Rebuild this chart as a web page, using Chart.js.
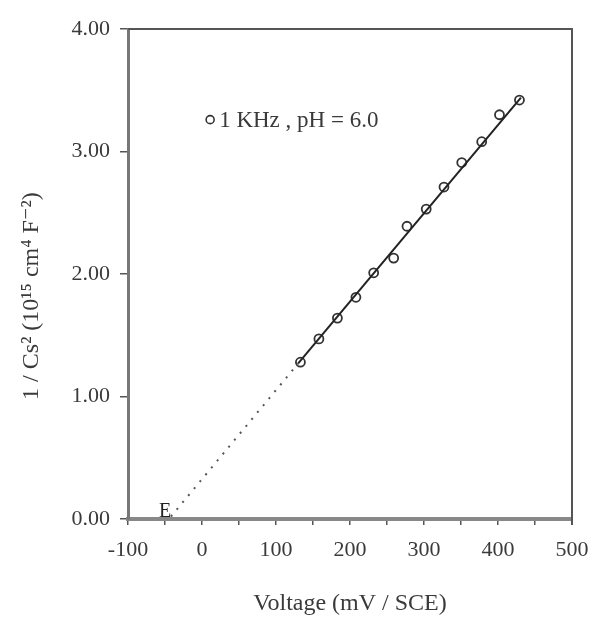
<!DOCTYPE html>
<html>
<head>
<meta charset="utf-8">
<script src="https://cdn.jsdelivr.net/npm/chart.js@4/dist/chart.umd.min.js"></script>
<style>
html,body{margin:0;padding:0;background:#fff;}
#wrap{width:598px;height:622px;position:relative;}
</style>
</head>
<body>
<div id="wrap"><canvas id="c" width="598" height="622"></canvas></div>
<script>
// Data
const voltage = [133, 158, 183, 208, 232, 259, 277, 303, 327, 351, 378, 402, 429];
const invCs2 = [1.28, 1.47, 1.64, 1.81, 2.01, 2.13, 2.39, 2.53, 2.71, 2.91, 3.08, 3.30, 3.42];
const fitX = [130, 431];
const fitY = [1.27, 3.44];
const extrapX = [-42, 130];
const extrapY = [0.02, 1.27];
const xTickValues = [-100, 0, 100, 200, 300, 400, 500];
const yTickValues = [0, 1, 2, 3, 4];
const legendText = '1 KHz , pH = 6.0';
const flatbandLabel = 'E';
const xTitle = 'Voltage (mV / SCE)';
const yTitle = '1 / Cs\u00B2 (10\u00B9\u2075 cm\u2074 F\u207B\u00B2)';

const serif = '"Liberation Serif", "DejaVu Serif", serif';
const textColor = '#3a3a3a';

const extraDraw = {
  id: 'extraDraw',
  afterDraw(chart) {
    const {ctx, chartArea: a, scales} = chart;
    ctx.save();
    // top and right frame
    ctx.strokeStyle = '#555';
    ctx.lineWidth = 2;
    ctx.beginPath();
    ctx.moveTo(a.left, a.top);
    ctx.lineTo(a.right, a.top);
    ctx.lineTo(a.right, a.bottom + 6);
    ctx.stroke();
    // legend
    const lx = scales.x.getPixelForValue(11);
    const ly = scales.y.getPixelForValue(3.26);
    ctx.lineWidth = 1.6;
    ctx.strokeStyle = '#333';
    ctx.beginPath();
    ctx.arc(lx, ly, 4, 0, Math.PI * 2);
    ctx.stroke();
    ctx.fillStyle = textColor;
    ctx.font = '23px ' + serif;
    ctx.textBaseline = 'middle';
    ctx.textAlign = 'left';
    ctx.fillText(legendText, lx + 9, ly + 1);
    // flat band label
    ctx.fillStyle = '#222';
    ctx.font = '20px ' + serif;
    ctx.textAlign = 'center';
    ctx.textBaseline = 'bottom';
    ctx.fillText(flatbandLabel, scales.x.getPixelForValue(-50), scales.y.getPixelForValue(0) + 3);
    // y axis title (drawn so it can sit where the reference puts it)
    ctx.fillStyle = textColor;
    ctx.font = '24px ' + serif;
    ctx.textAlign = 'center';
    ctx.textBaseline = 'middle';
    ctx.translate(32, scales.y.getPixelForValue(1.82));
    ctx.rotate(-Math.PI / 2);
    ctx.fillText(yTitle, 0, 0);
    ctx.restore();
  }
};

new Chart(document.getElementById('c'), {
  type: 'scatter',
  data: {
    datasets: [
      {
        label: 'extrapolation',
        type: 'line',
        data: extrapX.map((x, i) => ({x, y: extrapY[i]})),
        borderColor: '#555',
        borderWidth: 2,
        borderDash: [2, 7],
        pointRadius: 0,
        fill: false
      },
      {
        label: 'fit',
        type: 'line',
        data: fitX.map((x, i) => ({x, y: fitY[i]})),
        borderColor: '#222',
        borderWidth: 2,
        pointRadius: 0,
        fill: false
      },
      {
        label: legendText,
        data: voltage.map((x, i) => ({x, y: invCs2[i]})),
        pointStyle: 'circle',
        pointRadius: 4.5,
        pointBorderWidth: 1.8,
        pointBorderColor: '#333',
        pointBackgroundColor: 'rgba(255,255,255,0.6)'
      }
    ]
  },
  options: {
    responsive: false,
    animation: false,
    layout: {padding: {top: 29, right: 26, bottom: 0, left: 0}},
    plugins: {legend: {display: false}, tooltip: {enabled: false}},
    scales: {
      x: {
        type: 'linear',
        min: -100, max: 500,
        afterFit(s) { s.height = 103; s.paddingRight = 17; s.paddingLeft = 17; },
        afterBuildTicks(s) {
          const t = [];
          for (let v = -100; v <= 500; v += 50) t.push({value: v});
          s.ticks = t;
        },
        ticks: {
          autoSkip: false,
          maxRotation: 0,
          padding: 12,
          color: textColor,
          font: {family: serif, size: 22},
          callback: (v) => xTickValues.includes(v) ? String(v) : ''
        },
        grid: {drawOnChartArea: false, drawTicks: true, tickLength: 6, color: '#555', lineWidth: 1.5},
        border: {color: '#888', width: 4},
        title: {display: true, text: xTitle, color: textColor, font: {family: serif, size: 24}, padding: {top: 12}}
      },
      y: {
        type: 'linear',
        min: 0, max: 4,
        afterFit(s) { s.width = 128; },
        afterBuildTicks(s) { s.ticks = yTickValues.map(v => ({value: v})); },
        ticks: {
          color: textColor,
          padding: 10,
          font: {family: serif, size: 22},
          callback: (v) => Number(v).toFixed(2)
        },
        grid: {drawOnChartArea: false, drawTicks: true, tickLength: 8, color: '#555', lineWidth: 1.5},
        border: {color: '#777', width: 3},
        title: {display: false}
      }
    }
  },
  plugins: [extraDraw]
});
</script>
</body>
</html>
